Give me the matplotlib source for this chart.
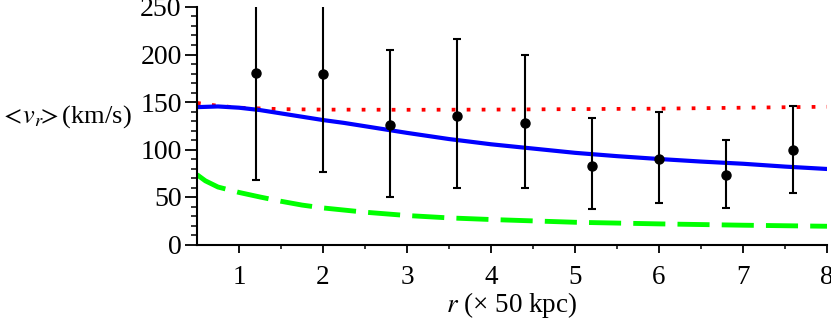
import matplotlib
matplotlib.use("Agg")
import matplotlib.pyplot as plt

# Data points with asymmetric error bars
r_pts = [1.2, 2.0, 2.8, 3.6, 4.4, 5.2, 6.0, 6.8, 7.6]
v_pts = [181, 179, 126, 135, 128, 83, 90, 73, 99]
v_hi = [255, 255, 205, 216, 199, 133, 140, 110, 146]
v_lo = [68, 76, 50, 59, 59, 37, 44, 38, 54]

# Model curves
r_red = [0.5, 0.75, 1.0, 1.5, 2.0, 3.0, 4.0, 5.0, 6.0, 7.0, 8.0]
v_red = [149, 146, 144, 142.5, 142, 141.8, 142, 142.5, 143, 144, 145]

r_blue = [0.5, 0.75, 1.0, 1.25, 1.5, 1.75, 2.0, 2.25, 2.5, 2.75, 3.0, 3.5, 4.0, 4.5, 5.0, 5.5, 6.0, 6.5, 7.0, 7.5, 8.0]
v_blue = [144.6, 145.3, 144, 141.5, 138, 134.5, 131, 128, 124.5, 121, 117.5, 111, 105.5, 101, 96.5, 93, 90, 87.3, 85, 82, 79.5]

r_green = [0.5, 0.6, 0.75, 1.0, 1.25, 1.5, 1.75, 2.0, 2.5, 3.0, 3.5, 4.0, 5.0, 6.0, 7.0, 8.0]
v_green = [73.5, 67, 60.5, 54.8, 50, 45.5, 41.5, 38.5, 34, 30.5, 28, 26.3, 23.4, 21.7, 20.3, 19.2]

x_ticks = [1, 2, 3, 4, 5, 6, 7, 8]
y_ticks = [0, 50, 100, 150, 200, 250]

plt.rcParams['font.family'] = ['Liberation Serif', 'DejaVu Serif']
plt.rcParams['mathtext.fontset'] = 'stix'

fig = plt.figure(figsize=(8.31, 3.2), dpi=100)
ax = fig.add_axes([197/831, (320-244.5)/320, (827-197)/831, (244.5-7)/320])

ax.plot(r_green, v_green, color=(0, 1, 0), lw=3.5, linestyle=(0, (6.6, 2.5)),
        dash_capstyle='butt')
ax.plot(r_red, v_red, color=(1, 0, 0), lw=2.7, linestyle=(0, (1, 3)),
        dash_capstyle='butt')
ax.plot(r_blue, v_blue, color=(0, 0, 1), lw=3)

yerr = [[v - lo for v, lo in zip(v_pts, v_lo)], [hi - v for v, hi in zip(v_pts, v_hi)]]
ax.errorbar(r_pts, v_pts, yerr=yerr, fmt='o', color='black', ms=6.5,
            elinewidth=1.5, capsize=3, capthick=1.5)

ax.set_xlim(0.5, 8)
ax.set_ylim(0, 250)
ax.set_xticks(x_ticks)
ax.set_yticks(y_ticks)
ax.set_xticks([1.5, 2.5, 3.5, 4.5, 5.5, 6.5, 7.5], minor=True)
ax.set_yticks([v for v in range(0, 251, 10) if v % 50 != 0], minor=True)

for s in ['top', 'right']:
    ax.spines[s].set_visible(False)
for s in ['left', 'bottom']:
    ax.spines[s].set_linewidth(1.5)

ax.tick_params(axis='y', which='major', length=9, width=1.3, labelsize=20, direction='out', pad=2)
ax.tick_params(axis='y', which='minor', length=4.5, width=1.1, direction='out')
ax.tick_params(axis='x', which='major', length=6, width=1.3, labelsize=19.5, direction='out', pad=8.5)
ax.tick_params(axis='x', which='minor', length=3, width=1.1, direction='out')

fig.text(0.0, 1 - 117/320, r'$<\!v_{r}\!\!>$(km/s)', fontsize=19, ha='left', va='center')
fig.text(512/831, 1 - 305/320, r'$r$ (× 50 kpc)', fontsize=19.5, ha='center', va='center')

fig.savefig('out.png', dpi=100)
